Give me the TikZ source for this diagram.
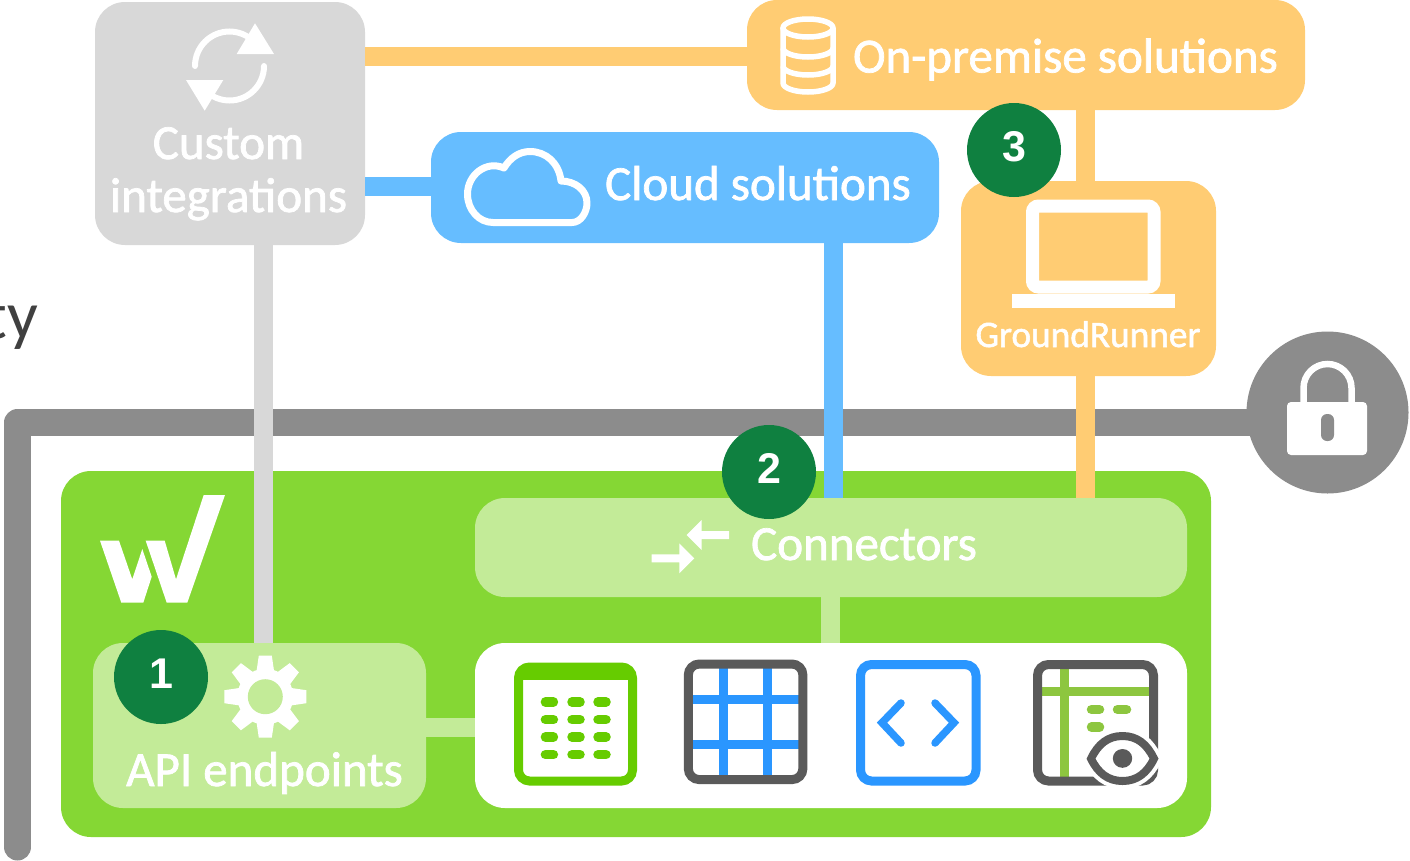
\documentclass[tikz,border=0pt]{standalone}
\usepackage{fontspec}
\setmainfont{Carlito}
\newfontfamily\numfont{Liberation Sans}
\newfontfamily\heavyfont{Carlito}[FakeBold=1.5]
\usetikzlibrary{shapes}
\definecolor{customgrey}{HTML}{D8D8D8}
\definecolor{premorange}{HTML}{FFCC73}
\definecolor{cloudblue}{HTML}{66BDFF}
\definecolor{panelgreen}{HTML}{85D734}
\definecolor{lightgreen}{HTML}{C3EB98}
\definecolor{badgegreen}{HTML}{0F8040}
\definecolor{wallgrey}{HTML}{8C8C8C}
\definecolor{tablegreen}{HTML}{66CC00}
\definecolor{toolblue}{HTML}{2A96FF}
\definecolor{tooldark}{HTML}{5A5A5A}
\definecolor{viewgreen}{HTML}{8DC63F}
\begin{document}
\begin{tikzpicture}[x=1pt, y=-1pt,
box/.style={rectangle, rounded corners=30pt, inner sep=0pt},
badge/.style={circle, fill=badgegreen, text=white, minimum size=94pt, inner sep=0pt, text height=31pt, text depth=8pt, font=\numfont\bfseries\fontsize{43}{43}\selectfont},
link/.style={line width=19pt},
label/.style={text=white, inner sep=0pt, anchor=base, align=center},
frame/.style={line width=9pt, rounded corners=11pt},
pill/.style={line width=9.5pt, line cap=round}]
\tikzstyle{big}=[font=\heavyfont\fontsize{49}{53}\selectfont]
\clip (0,0) rectangle (1410,860);

\node [inner sep=0pt, anchor=base east, text=black!75, font=\fontsize{68}{68}\selectfont] (cutoff) at (38,338) {ty};

% wall
\node [circle, fill=wallgrey, minimum size=162pt, inner sep=0pt] (lock) at (1327.5,412.5) {};
\coordinate (wallfoot) at (17.5,847);
\coordinate (walltop) at (17.5,422.5);
\draw [wallgrey, line width=27pt, line cap=round, line join=round] (wallfoot) -- (walltop) -- (lock.center |- walltop);
\draw [white, line width=6.5pt] (1303.5,405) -- (1303.5,388) arc[start angle=180, end angle=0, radius=24pt] -- (1351.5,405);
\fill [white, rounded corners=4pt] (1287,402) rectangle (1367,455);
\fill [wallgrey, rounded corners=6pt] (1321,414) rectangle (1334,441);

% boxes
\node [box, fill=panelgreen, minimum width=1150pt, minimum height=366pt] (panel) at (636,654) {};
\node [box, fill=customgrey, minimum width=270pt, minimum height=243pt] (custom) at (230,123.5) {};
\node [box, fill=premorange, minimum width=558pt, minimum height=110pt] (onprem) at (1026,55) {};
\node [box, fill=cloudblue, minimum width=508pt, minimum height=111pt] (cloud) at (685,187.5) {};
\node [box, fill=premorange, minimum width=255pt, minimum height=195pt] (ground) at (1088.5,278.5) {};
\node [box, fill=lightgreen, minimum width=712pt, minimum height=99pt] (connectors) at (831,547.5) {};
\node [box, fill=white, minimum width=712pt, minimum height=165pt] (tools) at (831,725.5) {};
\node [box, fill=lightgreen, minimum width=333pt, minimum height=165pt] (api) at (259.5,725.5) {};

% links
\coordinate (tapgrey) at (263.5,300);
\coordinate (tapblue) at (833.5,300);
\coordinate (taporange) at (1085.5,300);
\coordinate (taplight) at (830.5,620);
\draw [link, premorange] (custom.east |- 0,56) -- (onprem.west |- 0,56);
\draw [link, cloudblue] (custom.east |- 0,186) -- (cloud.west |- 0,186);
\draw [link, customgrey] (custom.south -| tapgrey) -- (api.north -| tapgrey);
\draw [link, cloudblue] (cloud.south -| tapblue) -- (connectors.north -| tapblue);
\draw [link, premorange] (onprem.south -| taporange) -- (ground.north -| taporange);
\draw [link, premorange] (ground.south -| taporange) -- (connectors.north -| taporange);
\draw [link, lightgreen] (connectors.south -| taplight) -- (tools.north -| taplight);
\draw [link, lightgreen] (api.east |- 0,727) -- (tools.west |- 0,727);

% labels
\node [label, big] (customlabel) at (228.5,212) {Custom\\integrations};
\node [label, big] (onpremlabel) at (1065.5,72.5) {On-premise solutions};
\node [label, big] (cloudlabel) at (758,200) {Cloud solutions};
\node [label, font=\heavyfont\fontsize{37.3}{40}\selectfont] (groundlabel) at (1088,347) {GroundRunner};
\node [label, big] (connectorslabel) at (864,560) {Connectors};
\node [label, big] (apilabel) at (264.5,786) {API endpoints};

% sync icon
\draw [white, line width=6pt, line cap=round] (195,66) arc[start angle=180, end angle=60, radius=34.5pt];
\draw [white, line width=6pt, line cap=round] (264,66) arc[start angle=0, end angle=-120, radius=34.5pt];
\fill [white] (255,23.3) -- (274,54) -- (236.7,54) -- cycle;
\fill [white] (186,80) -- (223.3,80) -- (204.7,110.7) -- cycle;

% database icon
\draw [white, line width=5.5pt] (808,28) ellipse [x radius=25pt, y radius=9pt];
\draw [white, line width=5.5pt] (783,28) -- (783,83) arc[start angle=180, end angle=360, x radius=25pt, y radius=9pt] -- (833,28);
\draw [white, line width=5.5pt] (783,48) arc[start angle=180, end angle=360, x radius=25pt, y radius=9pt];
\draw [white, line width=5.5pt] (783,66) arc[start angle=180, end angle=360, x radius=25pt, y radius=9pt];

% cloud icon
\draw [white, line width=7pt, line join=round] (493,222.5) -- (572,222.5) .. controls (581,222.5) and (587,212) .. (587,203) .. controls (587,190) and (575,181) .. (561,181) .. controls (559,163) and (546,151.5) .. (530,151.5) .. controls (519,151.5) and (510,158) .. (504,168) .. controls (486,160) and (467.5,175) .. (467.5,194) .. controls (467.5,210) and (479,222.5) .. (493,222.5) -- cycle;

% laptop icon
\draw [white, line width=13pt, rounded corners=6pt] (1032.5,206) rectangle (1154,287);
\fill [white] (1012,294) rectangle (1175,308);

% connector arrows
\fill [white] (729,531) -- (701.7,531) -- (701.7,520) -- (686.7,535) -- (701.7,550) -- (701.7,539) -- (729,539) -- cycle;
\fill [white] (651.7,554.3) -- (679.3,554.3) -- (679.3,543.3) -- (694.3,558.3) -- (679.3,573.3) -- (679.3,562.3) -- (651.7,562.3) -- cycle;

% logo
\fill [white] (100,540.7) -- (119,540.7) -- (132.3,579.3) -- (142.3,549) -- (151.7,576.7) -- (143.3,602.7) -- (121.3,602.7) -- cycle;
\fill [white] (145.7,540.7) -- (164.7,540.7) -- (176,579.3) -- (203.7,495) -- (225,495) -- (187.3,602.7) -- (166.7,602.7) -- cycle;

% gear icon
\foreach \a in {0,45,...,315} {
  \fill [white, shift={(265.3,696.7)}, rotate=\a] (-9,-24) -- (-6.5,-41) -- (6.5,-41) -- (9,-24) -- cycle;
}
\fill [white] (265.3,696.7) circle [radius=28pt];
\fill [lightgreen] (265.3,696.7) circle [radius=17.5pt];

% table icon
\draw [tablegreen, frame] (518.5,667) rectangle (632.5,781);
\fill [tablegreen] (519,668) rectangle (632,680);
\foreach \y in {702,719.7,737,754.7} {
  \foreach \x in {549.4,576,602} {
    \draw [tablegreen, pill] (\x-4,\y) -- (\x+4,\y);
  }
}

% grid icon
\foreach \x in {723.2,767.5} {
  \draw [toolblue, line width=9pt] (\x,665) -- (\x,779);
}
\foreach \y in {699.8,744.2} {
  \draw [toolblue, line width=9pt] (689,\y) -- (802,\y);
}
\draw [tooldark, frame] (688.3,664) rectangle (802.9,779.6);

% code icon
\draw [toolblue, frame] (860.5,664.5) rectangle (976,781);
\draw [toolblue, line width=7.5pt, line cap=round] (901,703) -- (882,722.7) -- (901,743);
\draw [toolblue, line width=7.5pt, line cap=round] (935,703) -- (954,722.7) -- (935,743);

% view icon
\draw [viewgreen, line width=9pt] (1064.2,665) -- (1064.2,781);
\draw [viewgreen, line width=9pt] (1038,691.3) -- (1153,691.3);
\draw [tooldark, frame] (1037.5,664.5) rectangle (1153.5,781);
\draw [viewgreen, pill] (1091.5,709.5) -- (1099.5,709.5);
\draw [viewgreen, pill] (1117.5,709.5) -- (1126.5,709.5);
\draw [viewgreen, pill] (1091.5,727.2) -- (1099.5,727.2);
\fill [white, draw=white, line width=16pt] (1091,758.7) .. controls (1098,744) and (1108,736) .. (1122.5,736) .. controls (1137,736) and (1147,744) .. (1154,758.7) .. controls (1147,773) and (1137,781) .. (1122.5,781) .. controls (1108,781) and (1098,773) .. (1091,758.7) -- cycle;
\draw [tooldark, line width=8pt] (1091,758.7) .. controls (1098,744) and (1108,736) .. (1122.5,736) .. controls (1137,736) and (1147,744) .. (1154,758.7) .. controls (1147,773) and (1137,781) .. (1122.5,781) .. controls (1108,781) and (1098,773) .. (1091,758.7) -- cycle;
\fill [tooldark] (1122.5,758.4) ellipse [x radius=9.7pt, y radius=9.4pt];

% badges
\node [badge] (one) at (161,677) {1};
\node [badge] (two) at (769,472) {2};
\node [badge] (three) at (1014,150) {3};
\end{tikzpicture}
\end{document}
